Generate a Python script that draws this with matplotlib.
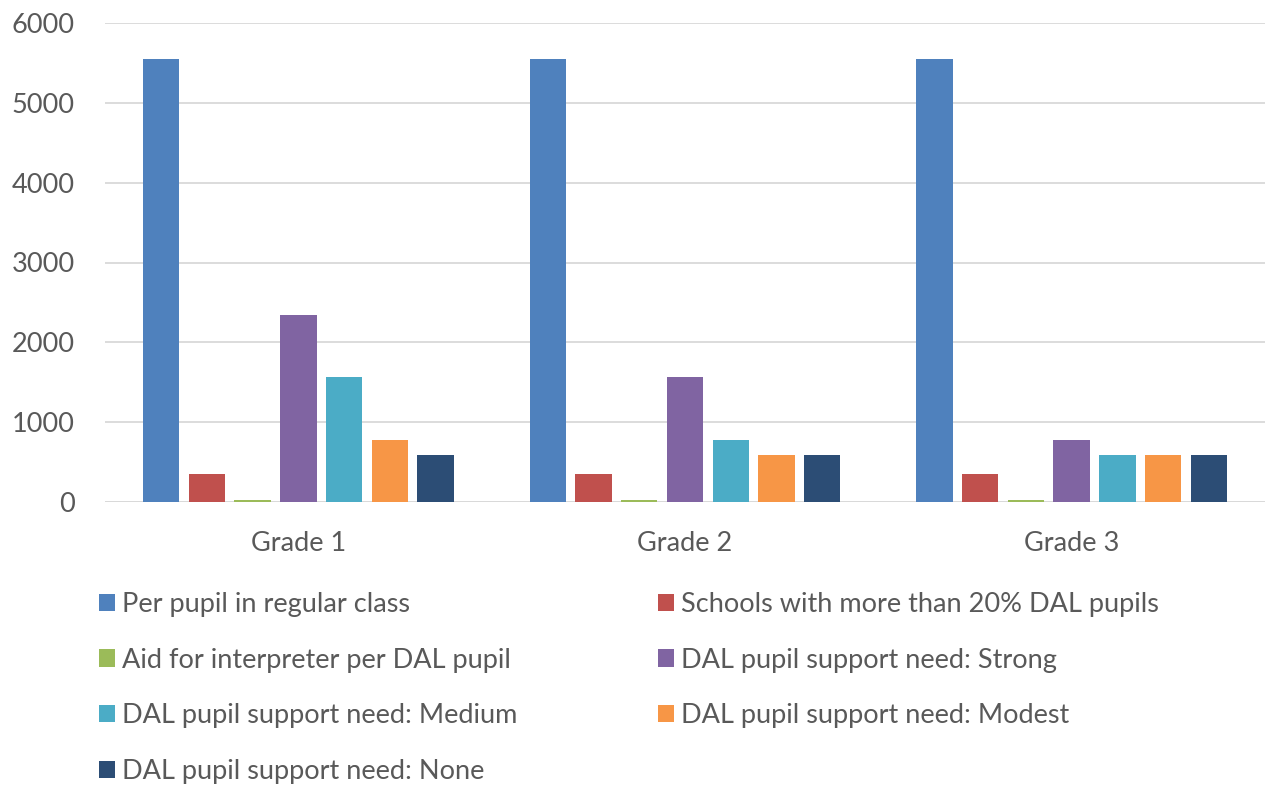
import matplotlib.pyplot as plt
import numpy as np

grades = ["Grade 1", "Grade 2", "Grade 3"]

per_pupil_regular = [5550, 5550, 5550]
schools_over_20pct = [350, 350, 350]
interpreter_aid = [20, 20, 20]
support_strong = [2340, 1560, 780]
support_medium = [1560, 780, 585]
support_modest = [780, 585, 585]
support_none = [585, 585, 585]

series = [
    ("Per pupil in regular class", per_pupil_regular, "#4F81BD"),
    ("Schools with more than 20% DAL pupils", schools_over_20pct, "#C0504D"),
    ("Aid for interpreter per DAL pupil", interpreter_aid, "#9BBB59"),
    ("DAL pupil support need: Strong", support_strong, "#8064A2"),
    ("DAL pupil support need: Medium", support_medium, "#4BACC6"),
    ("DAL pupil support need: Modest", support_modest, "#F79646"),
    ("DAL pupil support need: None", support_none, "#2C4D75"),
]

text_color = "#595959"
plt.rcParams["font.family"] = ["Lato", "DejaVu Sans"]

fig = plt.figure(figsize=(12.65, 7.87), dpi=100)
ax = fig.add_axes([105 / 1265, 1 - 502 / 787, 1160 / 1265, 479 / 787])

x = np.arange(len(grades))
pitch = 0.1183
width = 0.094
handles = []
for i, (label, values, color) in enumerate(series):
    offset = (i - 3) * pitch
    bars = ax.bar(x + offset, values, width, color=color, label=label,
                  linewidth=0, zorder=3)
    handles.append(bars)

ax.set_xlim(-0.5, 2.5)
ax.set_ylim(0, 6000)
ax.set_yticks(range(0, 6001, 1000))
ax.set_xticks(x)
ax.set_xticklabels(grades)
ax.grid(axis="y", color="#d9d9d9", linewidth=1.3, zorder=0)
ax.axhline(0, color="#d9d9d9", linewidth=2, zorder=2)
for spine in ax.spines.values():
    spine.set_visible(False)
ax.tick_params(axis="y", length=0, pad=22, labelsize=19.5, labelcolor=text_color)
ax.tick_params(axis="x", length=0, pad=21, labelsize=19.5, labelcolor=text_color)

# legend fills row by row: left column gets even entries, right column odd ones
order = [0, 2, 4, 6, 1, 3, 5]
leg = fig.legend(
    [handles[k] for k in order],
    [series[k][0] for k in order],
    ncol=2,
    loc="upper left",
    bbox_to_anchor=(99 / 1265, 1 - 592 / 787),
    frameon=False,
    fontsize=19.5,
    handlelength=0.6,
    handleheight=0.6,
    handletextpad=0.25,
    columnspacing=5.2,
    labelspacing=1.13,
    borderaxespad=0,
    borderpad=0,
)
for t in leg.get_texts():
    t.set_color(text_color)

fig.savefig("out.png", dpi=100)
